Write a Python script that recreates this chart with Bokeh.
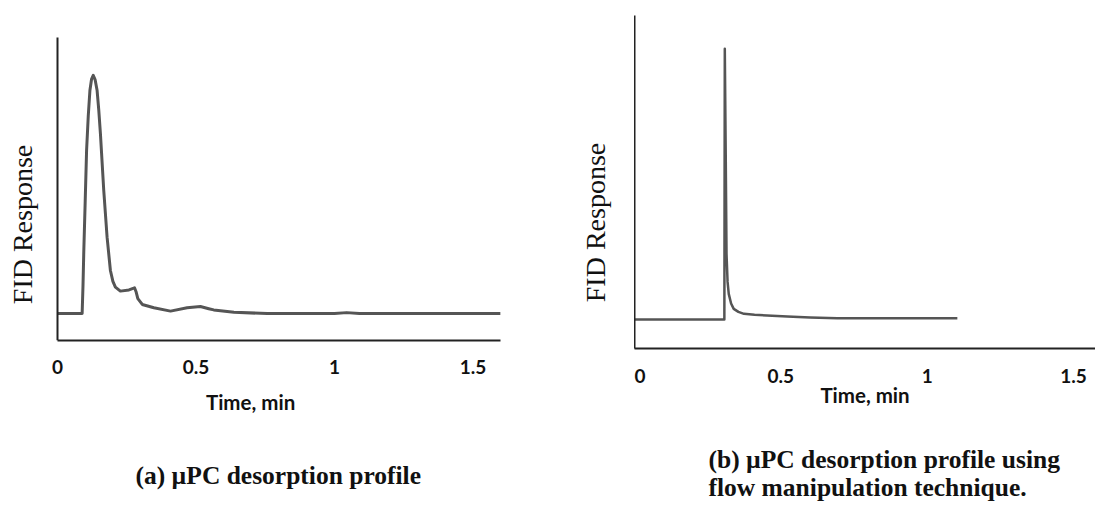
from bokeh.plotting import figure
from bokeh.layouts import row, column
from bokeh.models import Range1d, FixedTicker, Label, NumeralTickFormatter
from bokeh.embed import file_html
from bokeh.resources import INLINE

# ---- data ----
x_ticks = [0, 0.5, 1, 1.5]
x_tick_labels = ["0", "0.5", "1", "1.5"]

time_a = [0.0, 0.089, 0.092, 0.095, 0.100, 0.105, 0.111, 0.117, 0.123, 0.129, 0.136,
          0.143, 0.149, 0.155, 0.167, 0.179, 0.191, 0.200, 0.209, 0.227, 0.258, 0.278,
          0.284, 0.290, 0.306, 0.348, 0.408, 0.468, 0.516, 0.546, 0.564, 0.637, 0.757,
          1.000, 1.044, 1.090, 1.600]
resp_a = [8.9, 8.9, 18.0, 29.7, 46.0, 62.7, 74.0, 82.5, 86.3, 87.5, 86.0,
          82.5, 76.0, 68.2, 49.5, 34.1, 23.1, 19.5, 17.6, 16.3, 16.7, 17.4,
          16.0, 13.8, 11.9, 10.8, 9.7, 10.8, 11.2, 10.5, 10.1, 9.3, 8.9,
          8.9, 9.2, 8.9, 8.9]

time_b = [0.0, 0.307, 0.3085, 0.3115, 0.3144, 0.318, 0.322, 0.330, 0.339, 0.355,
          0.374, 0.410, 0.453, 0.522, 0.600, 0.693, 0.850, 1.103]
resp_b = [8.7, 8.7, 90.0, 60.0, 28.4, 20.0, 16.4, 13.5, 11.9, 11.0,
          10.4, 10.1, 9.9, 9.6, 9.3, 9.1, 9.1, 9.1]

y_title = "FID Response"
x_title = "Time, min"
caption_a = "(a) \u00b5PC desorption profile"
caption_b = ["(b) \u00b5PC desorption profile using", "flow manipulation technique."]

AXIS_COLOR = "#222222"
LINE_COLOR = "#555555"
TEXT_COLOR = "#111111"
TICK_FONT = "Lato"
SERIF = "Liberation Serif"
HALF_PI = 1.5707963


def base_style(p):
    p.toolbar_location = None
    p.outline_line_color = None
    p.background_fill_color = "white"
    p.border_fill_color = "white"
    p.min_border_left = 0
    p.min_border_right = 0
    p.min_border_top = 0
    p.min_border_bottom = 0
    p.xgrid.visible = False
    p.ygrid.visible = False
    if "frame_align" in p.properties():
        p.frame_align = False


def text_strip(width, height, x_range, y_range):
    p = figure(width=width, height=height, output_backend="svg", toolbar_location=None,
               tools="", x_range=x_range, y_range=y_range,
               x_axis_location=None, y_axis_location=None)
    base_style(p)
    return p


def axis_style(p):
    for ax in (p.xaxis[0], p.yaxis[0]):
        ax.axis_line_color = AXIS_COLOR
        ax.axis_line_width = 2
        ax.major_tick_line_color = None
        ax.minor_tick_line_color = None
        ax.major_tick_out = 0
        ax.major_tick_in = 0
        ax.minor_tick_out = 0
        ax.minor_tick_in = 0
    ya = p.yaxis[0]
    ya.ticker = FixedTicker(ticks=[])
    ya.major_label_text_font_size = "0px"
    ya.bounds = (0, 100)
    xa = p.xaxis[0]
    xa.ticker = FixedTicker(ticks=x_ticks)
    xa.formatter = NumeralTickFormatter(format="0.[0]")
    xa.major_label_overrides = {t: s for t, s in zip(x_ticks, x_tick_labels)}
    xa.major_label_text_font = TICK_FONT
    xa.major_label_text_font_style = "bold"
    xa.major_label_text_font_size = "19px"
    xa.major_label_text_color = TEXT_COLOR


def add_text(p, x, y, text, font, size, bold=False, angle=0.0, align="left"):
    p.add_layout(Label(x=x, y=y, text=text, angle=angle, text_align=align,
                       text_baseline="middle", text_font=font,
                       text_font_style="bold" if bold else "normal",
                       text_font_size=size, text_color=TEXT_COLOR))


# ---------------- panel (a) ----------------
A_W, A_H, A_FRAME_W, A_ORIGIN, A_SCALE = 560, 384, 500, 57, 277.0
A_TOP = 340 / 3.03
a_x0, a_x1 = -A_ORIGIN / A_SCALE, (A_FRAME_W - A_ORIGIN) / A_SCALE

pa = figure(width=A_W, height=A_H, output_backend="svg", toolbar_location=None,
            tools="", x_range=Range1d(a_x0, a_x1), y_range=Range1d(0, A_TOP))
base_style(pa)
pa.min_border_right = A_W - A_FRAME_W
pa.min_border_bottom = A_H - 340
axis_style(pa)
pa.yaxis[0].fixed_location = 0
pa.xaxis[0].bounds = (0, a_x1)
pa.xaxis[0].major_label_standoff = 19
pa.line(time_a, resp_a, line_color=LINE_COLOR, line_width=3, line_join="round")
add_text(pa, -0.1253, 38.3, y_title, SERIF, "28px", angle=HALF_PI, align="center")

# text strip under (a): y data = page pixel row
pa2 = text_strip(A_W, 505 - A_H, Range1d(a_x0, a_x0 + A_W / A_SCALE), Range1d(505, A_H))
add_text(pa2, 0.697, 401, x_title, TICK_FONT, "20.5px", bold=True, align="center")
add_text(pa2, 0.2816, 475.4, caption_a, SERIF, "25.5px", bold=True)

# ---------------- panel (b) ----------------
B_STRIP_W, B_W, B_H, B_SCALE = 74, 461, 413, 292.7
B_TOP = 348 / 3.33

pb = figure(width=B_W, height=B_H, output_backend="svg", toolbar_location=None,
            tools="", x_range=Range1d(0, B_W / B_SCALE), y_range=Range1d(0, B_TOP))
base_style(pb)
pb.min_border_bottom = B_H - 348
axis_style(pb)
pb.xaxis[0].major_label_standoff = 20
pb.xaxis[0].axis_label = x_title
pb.xaxis[0].axis_label_standoff = -3
pb.xaxis[0].axis_label_text_font = TICK_FONT
pb.xaxis[0].axis_label_text_font_style = "bold"
pb.xaxis[0].axis_label_text_font_size = "20.5px"
pb.xaxis[0].axis_label_text_color = TEXT_COLOR
pb.line(time_b, resp_b, line_color=LINE_COLOR, line_width=2.5, line_join="round")

# strip left of (b) holding its y title: x data = px from strip left, y data = page row
pb_strip = text_strip(B_STRIP_W, B_H, Range1d(0, B_STRIP_W), Range1d(B_H, 0))
add_text(pb_strip, 34.5, 222, y_title, SERIF, "28px", angle=HALF_PI, align="center")

pb2 = text_strip(B_STRIP_W + B_W, 505 - B_H, Range1d(0, B_STRIP_W + B_W), Range1d(505, B_H))
add_text(pb2, 708 - 560, 459.4, caption_b[0], SERIF, "25.5px", bold=True)
add_text(pb2, 708 - 560, 487.4, caption_b[1], SERIF, "25.5px", bold=True)

layout = row(column(pa, pa2), column(row(pb_strip, pb), pb2))
open("out.html", "w").write(file_html(layout, INLINE))
